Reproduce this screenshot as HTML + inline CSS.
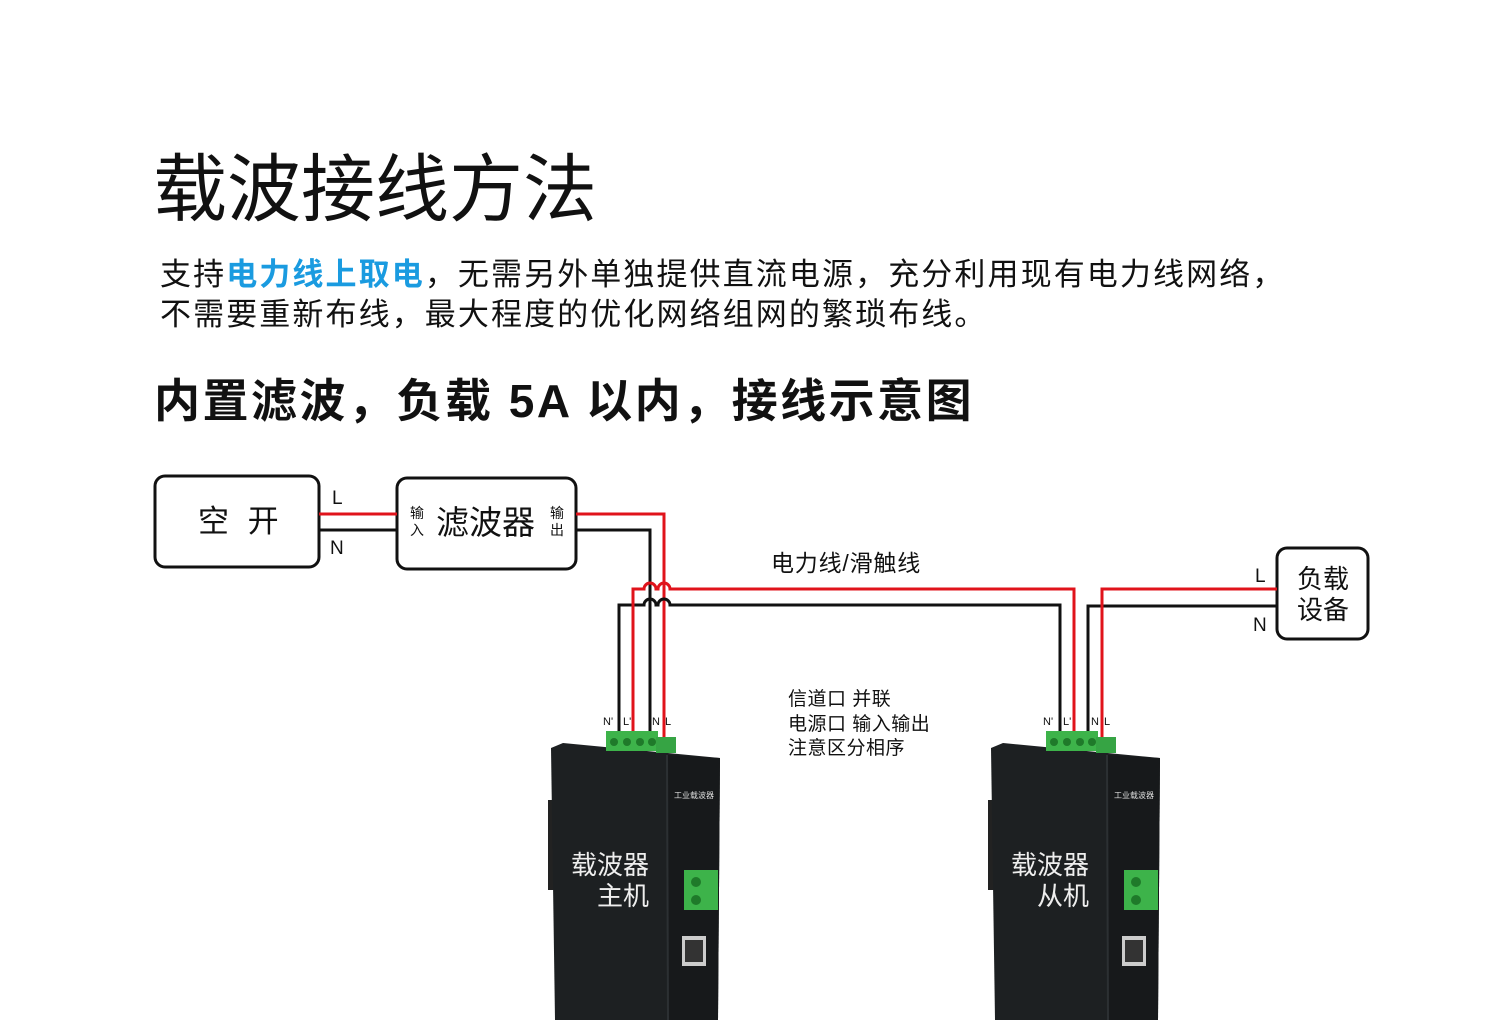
<!DOCTYPE html>
<html><head><meta charset="utf-8"><style>
body{margin:0;background:#fff;width:1500px;height:1020px;overflow:hidden;position:relative;font-family:"Liberation Sans","Noto Sans CJK SC",sans-serif;color:#111}
.a{position:absolute;white-space:nowrap}
</style></head><body>
<div class="a" style="left:153px;top:140px;font-size:74px;line-height:100px">载波接线方法</div>
<div class="a" style="left:160px;top:255px;font-size:31px;line-height:40px;letter-spacing:2.1px">支持<span style="color:#1a9be0;font-weight:bold">电力线上取电</span>，无需另外单独提供直流电源，充分利用现有电力线网络，<br>不需要重新布线，最大程度的优化网络组网的繁琐布线。</div>
<div class="a" style="left:154px;top:370px;font-size:46px;line-height:62px;font-weight:bold;letter-spacing:2.5px">内置滤波，负载 5A 以内，接线示意图</div>

<svg class="a" style="left:0;top:0" width="1500" height="1020">
<g fill="none" stroke-width="3">
<rect x="155" y="476" width="164" height="91" rx="10" stroke="#111"/>
<rect x="397" y="478" width="179" height="91" rx="10" stroke="#111"/>
<rect x="1277" y="548" width="91" height="91" rx="10" stroke="#111"/>
<line x1="319" y1="514" x2="397" y2="514" stroke="#e0131b"/>
<line x1="319" y1="530" x2="397" y2="530" stroke="#111"/>
<polyline points="576,530 650,530 650,740" stroke="#111"/>
<polyline points="576,514 664,514 664,740" stroke="#e0131b"/>
<path d="M619,740 V605 H644 a6,6 0 0 1 12,0 H658 a6,6 0 0 1 12,0 H1060 V740" stroke="#111"/>
<path d="M633,740 V589 H644 a6,6 0 0 1 12,0 H658 a6,6 0 0 1 12,0 H1074 V740" stroke="#e0131b"/>
<polyline points="1088,740 1088,606 1277,606" stroke="#111"/>
<polyline points="1102,740 1102,589 1277,589" stroke="#e0131b"/>
</g>
<g font-size="19" fill="#111" font-family="Liberation Sans,sans-serif">
<text x="332" y="504">L</text><text x="330" y="554">N</text>
<text x="1255" y="582">L</text><text x="1253" y="631">N</text>
</g>
<g font-size="11" fill="#111">
<text x="603" y="725">N'</text><text x="623" y="725">L'</text><text x="652" y="725">N</text><text x="665" y="725">L</text>
<text x="1043" y="725">N'</text><text x="1063" y="725">L'</text><text x="1091" y="725">N</text><text x="1104" y="725">L</text>
</g>
<g id="d">
<polygon points="548,800 556,800 556,890 548,890" fill="#222"/>
<polygon points="551,748 563,743 720,758 718,1020 555,1020" fill="#1d2022"/>
<polygon points="667,755 720,758 718,1020 668,1020" fill="#17191b"/>
<line x1="667" y1="755" x2="668" y2="1020" stroke="#2c3033" stroke-width="2"/>
<rect x="606" y="731" width="52" height="20" fill="#3db34a"/>
<rect x="656" y="737" width="20" height="16" fill="#36a444"/>
<circle cx="614" cy="742" r="4" fill="#1f7a2a"/><circle cx="627" cy="742" r="4" fill="#1f7a2a"/><circle cx="640" cy="742" r="4" fill="#1f7a2a"/><circle cx="652" cy="742" r="4" fill="#1f7a2a"/>
<rect x="684" y="870" width="34" height="40" fill="#3db34a"/>
<circle cx="696" cy="882" r="5" fill="#1f7a2a"/><circle cx="696" cy="900" r="5" fill="#1f7a2a"/>
<rect x="682" y="936" width="24" height="30" fill="#ccc"/><rect x="685" y="940" width="18" height="22" fill="#333"/>
<text x="674" y="798" font-size="8" fill="#ddd">工业载波器</text>
</g>
<use href="#d" x="440"/>
</svg>
<div class="a" style="left:198px;top:502px;font-size:31px;line-height:40px;letter-spacing:5px">空 开</div>
<div class="a" style="left:410px;top:505px;font-size:14px;line-height:17px">输<br>入</div>
<div class="a" style="left:436px;top:502px;font-size:33px;line-height:42px">滤波器</div>
<div class="a" style="left:550px;top:505px;font-size:14px;line-height:17px">输<br>出</div>
<div class="a" style="left:1297px;top:564px;font-size:26px;line-height:31px">负载<br>设备</div>
<div class="a" style="left:771px;top:548px;font-size:23px;line-height:30px;letter-spacing:0.8px">电力线/滑触线</div>
<div class="a" style="left:788px;top:688px;font-size:19px;line-height:24.5px;letter-spacing:0.5px">信道口 并联<br>电源口 输入输出<br>注意区分相序</div>
<div class="a" style="left:571px;top:850px;font-size:26px;line-height:31px;color:#eee;text-align:right">载波器<br>主机</div>
<div class="a" style="left:1011px;top:850px;font-size:26px;line-height:31px;color:#eee;text-align:right">载波器<br>从机</div>
</body></html>
